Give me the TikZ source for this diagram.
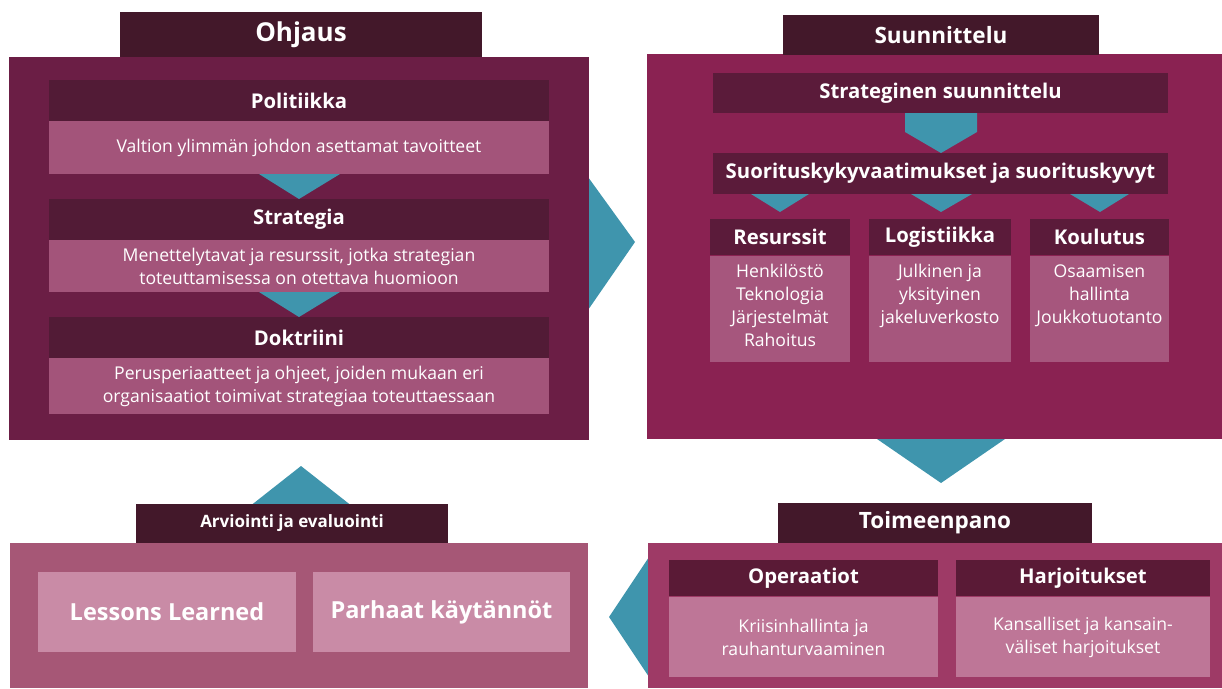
\documentclass[tikz,border=0pt]{standalone}
\usepackage{fontspec}
\setmainfont{Open Sans}
\definecolor{topH}{HTML}{43182A}
\definecolor{leftM}{HTML}{6B1E45}
\definecolor{leftH}{HTML}{521B36}
\definecolor{leftB}{HTML}{A3547A}
\definecolor{tealA}{HTML}{3F95AD}
\definecolor{rightM}{HTML}{8A2252}
\definecolor{rightH}{HTML}{5B1B3A}
\definecolor{rightB}{HTML}{A6567D}
\definecolor{brM}{HTML}{9E3A66}
\definecolor{brH}{HTML}{5A1A36}
\definecolor{brB}{HTML}{BE7697}
\definecolor{blM}{HTML}{A65776}
\definecolor{blB}{HTML}{C98BA6}
\begin{document}
\begin{tikzpicture}[x=1pt,y=-1pt,
  blk/.style={fill=#1, draw=none, inner sep=0pt, outer sep=0pt, text=white, align=center, anchor=north west},
  bigT/.style={font=\fontsize{26}{30}\selectfont\bfseries},
  midT/.style={font=\fontsize{22.5}{26}\selectfont\bfseries},
  subT/.style={font=\fontsize{20.3}{24}\selectfont\bfseries},
  bodyT/.style={font=\fontsize{17.6}{23}\selectfont, text=white},
  arr/.style={fill=tealA, draw=none}]
\useasboundingbox (0,0) rectangle (1222,688);

% ---------- arrows between main boxes (behind) ----------
\fill[arr] (588,177) -- (635,242) -- (588,310) -- cycle;
\fill[arr] (877,439) -- (1005,439) -- (941,483) -- cycle;
\fill[arr] (649,557) -- (609,617) -- (649,677) -- cycle;
\fill[arr] (301,466) -- (362,514) -- (240,514) -- cycle;

% ---------- Ohjaus ----------
\node[blk=leftM, minimum width=580, minimum height=383] (leftM) at (9,57) {};
\node[blk=topH, minimum width=362, minimum height=45, bigT] (ohjaus) at (120,12) {Ohjaus};
\fill[arr] (259,174) -- (340,174) -- (299,199) -- cycle;
\fill[arr] (259,292) -- (340,292) -- (299,317) -- cycle;
\node[blk=leftH, minimum width=500, minimum height=41, subT] (pol) at (49,80) {Politiikka};
\node[blk=leftB, minimum width=500, minimum height=53, bodyT] (polB) at (49,121) {Valtion ylimmän johdon asettamat tavoitteet};
\node[blk=leftH, minimum width=500, minimum height=41, subT] (str) at (49,199) {Strategia};
\node[blk=leftB, minimum width=500, minimum height=52, bodyT] (strB) at (49,240) {Menettelytavat ja resurssit, jotka strategian\\toteuttamisessa on otettava huomioon};
\node[blk=leftH, minimum width=500, minimum height=41, subT] (dok) at (49,317) {Doktriini};
\node[blk=leftB, minimum width=500, minimum height=56, bodyT] (dokB) at (49,358) {Perusperiaatteet ja ohjeet, joiden mukaan eri\\organisaatiot toimivat strategiaa toteuttaessaan};

% ---------- Suunnittelu ----------
\node[blk=rightM, minimum width=575, minimum height=385] (rightM) at (647,54) {};
\node[blk=topH, minimum width=316, minimum height=40, midT] (suun) at (783,15) {Suunnittelu};
\node[blk=rightH, minimum width=455, minimum height=40, subT] (strat) at (713,73) {Strateginen suunnittelu};
\fill[arr] (905,113) -- (977,113) -- (977,132) -- (941,153) -- (905,132) -- cycle;
\node[blk=rightH, minimum width=455, minimum height=41, subT] (suor) at (713,153) {Suorituskykyvaatimukset ja suorituskyvyt};
\fill[arr] (751,194) -- (809,194) -- (780,212) -- cycle;
\fill[arr] (911,194) -- (972,194) -- (941,212) -- cycle;
\fill[arr] (1070,194) -- (1129,194) -- (1100,212) -- cycle;

\node[blk=rightH, minimum width=140, minimum height=36, subT] (res) at (710,219) {Resurssit};
\node[blk=rightB, minimum width=140, minimum height=106] (resB) at (710,256) {};
\node[bodyT, anchor=north, align=center, inner sep=0pt] (resT) at (780,264) {Henkilöstö\\Teknologia\\Järjestelmät\\Rahoitus};

\node[blk=rightH, minimum width=142, minimum height=36, subT] (log) at (869,219) {Logistiikka};
\node[blk=rightB, minimum width=142, minimum height=106] (logB) at (869,256) {};
\node[bodyT, anchor=north, align=center, inner sep=0pt] (logT) at (940,264) {Julkinen ja\\yksityinen\\jakeluverkosto};

\node[blk=rightH, minimum width=139, minimum height=36, subT] (kou) at (1030,219) {Koulutus};
\node[blk=rightB, minimum width=139, minimum height=106] (kouB) at (1030,256) {};
\node[bodyT, anchor=north, align=center, inner sep=0pt] (kouT) at (1099.5,264) {Osaamisen\\hallinta\\Joukkotuotanto};

% ---------- Toimeenpano ----------
\node[blk=brM, minimum width=574, minimum height=145] (brM) at (648,543) {};
\node[blk=topH, minimum width=314, minimum height=40, midT] (toim) at (778,503) {Toimeenpano};
\node[blk=brH, minimum width=269, minimum height=36, subT] (oper) at (669,560) {Operaatiot};
\node[blk=brB, minimum width=269, minimum height=80, bodyT] (operB) at (669,597) {Kriisinhallinta ja\\rauhanturvaaminen};
\node[blk=brH, minimum width=254, minimum height=36, subT] (harj) at (956,560) {Harjoitukset};
\node[blk=brB, minimum width=254, minimum height=80, bodyT] (harjB) at (956,597) {Kansalliset ja kansain-\\väliset harjoitukset};

% ---------- Arviointi ----------
\node[blk=blM, minimum width=578, minimum height=145] (blM) at (10,543) {};
\node[blk=topH, minimum width=312, minimum height=39, font=\fontsize{17}{20}\selectfont\bfseries] (arv) at (136,504) {Arviointi ja evaluointi};
\node[blk=blB, minimum width=258, minimum height=80, font=\fontsize{23.5}{28}\selectfont\bfseries] (les) at (38,572) {Lessons Learned};
\node[blk=blB, minimum width=257, minimum height=80, font=\fontsize{23.5}{28}\selectfont\bfseries] (par) at (313,572) {Parhaat käytännöt};
\end{tikzpicture}
\end{document}
